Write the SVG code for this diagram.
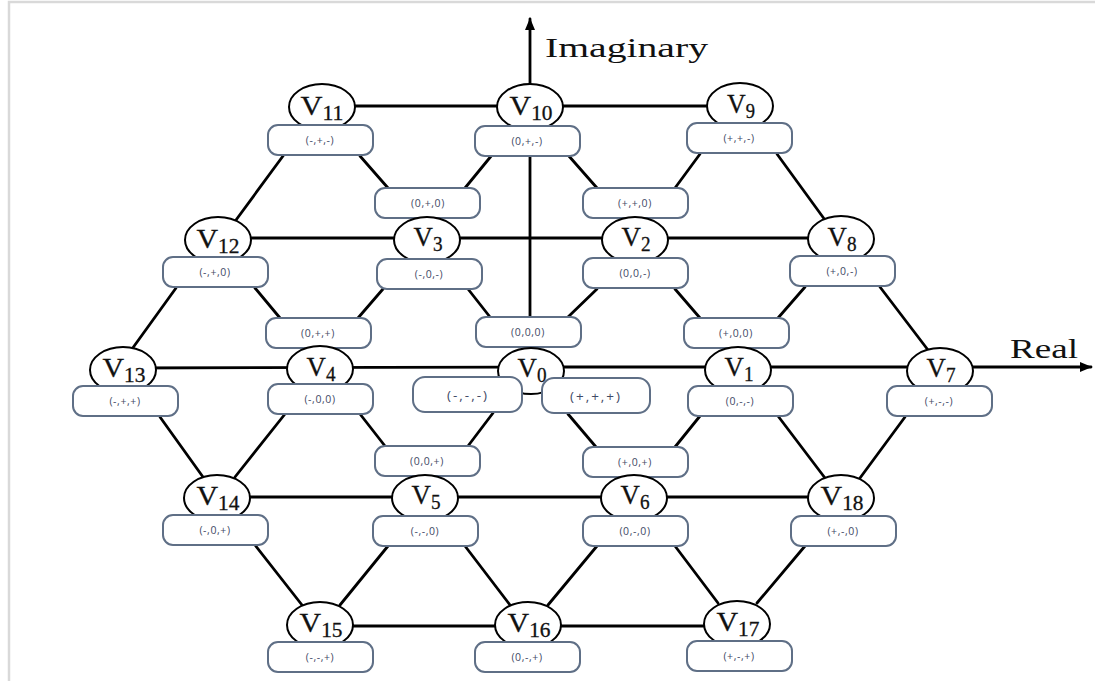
<svg xmlns="http://www.w3.org/2000/svg" width="1095" height="681" viewBox="0 0 1095 681">
<style>
.e{fill:#fff;stroke:#000;stroke-width:2}
.b{fill:#fff;stroke:#5f6f86;stroke-width:2}
.c line{stroke:#000;stroke-width:2.8;stroke-linecap:round}
.v{font-family:"Liberation Serif",serif;font-size:28px;fill:#111;text-anchor:middle;stroke:#111;stroke-width:0.3}
.s{font-size:20px}
.t{font-family:"Open Sans","Liberation Sans",sans-serif;font-size:10.5px;fill:#3f4a66;text-anchor:middle;letter-spacing:0.6px}
.tb{font-size:13.5px;letter-spacing:2px}
.ax{font-family:"Liberation Serif",serif;font-size:28px;fill:#111}
</style>
<defs>
<marker id="ah" markerWidth="12" markerHeight="10" refX="11" refY="5" orient="auto" markerUnits="userSpaceOnUse">
<path d="M0,0 L12,5 L0,10 Z" fill="#000"/>
</marker>
</defs>
<rect width="1095" height="681" fill="#fff"/>
<path d="M9,681 V2 H1095" fill="none" stroke="#d9d9d9" stroke-width="2.5"/>

<g id="connectors" class="c">
<line x1="530" y1="317" x2="530" y2="19" marker-end="url(#ah)"/>
<line x1="531" y1="367" x2="1091" y2="367" marker-end="url(#ah)"/>
<line x1="322" y1="106" x2="740" y2="106"/>
<line x1="218" y1="238" x2="841" y2="238"/>
<line x1="123" y1="368" x2="531" y2="367"/>
<line x1="217" y1="497" x2="841" y2="497"/>
<line x1="320" y1="626" x2="737" y2="626"/>
<line x1="283" y1="156" x2="236" y2="220"/>
<line x1="360" y1="156" x2="388" y2="188"/>
<line x1="465" y1="188" x2="492" y2="155"/>
<line x1="568" y1="155" x2="597" y2="188"/>
<line x1="675" y1="188" x2="700" y2="154"/>
<line x1="777" y1="154" x2="825" y2="220"/>
<line x1="176" y1="288" x2="132" y2="349"/>
<line x1="255" y1="288" x2="280" y2="318"/>
<line x1="358" y1="318" x2="383" y2="289"/>
<line x1="468" y1="289" x2="490" y2="317"/>
<line x1="568" y1="317" x2="597" y2="289"/>
<line x1="675" y1="289" x2="700" y2="318"/>
<line x1="778" y1="318" x2="805" y2="287"/>
<line x1="880" y1="287" x2="928" y2="350"/>
<line x1="160" y1="417" x2="203" y2="477"/>
<line x1="285" y1="414" x2="235" y2="477"/>
<line x1="360" y1="414" x2="385" y2="446"/>
<line x1="468" y1="446" x2="493" y2="413"/>
<line x1="568" y1="414" x2="596" y2="447"/>
<line x1="675" y1="447" x2="700" y2="416"/>
<line x1="778" y1="416" x2="825" y2="478"/>
<line x1="905" y1="417" x2="860" y2="478"/>
<line x1="255" y1="545" x2="302" y2="605"/>
<line x1="388" y1="546" x2="340" y2="605"/>
<line x1="465" y1="546" x2="510" y2="605"/>
<line x1="597" y1="546" x2="548" y2="605"/>
<line x1="675" y1="546" x2="718" y2="603"/>
<line x1="805" y1="546" x2="757" y2="603"/>
</g>

<text class="ax" x="545" y="57" textLength="163" lengthAdjust="spacingAndGlyphs">Imaginary</text>
<text class="ax" x="1010" y="358" textLength="68" lengthAdjust="spacingAndGlyphs">Real</text>

<g id="V11"><ellipse class="e" cx="322" cy="107" rx="33" ry="23"/><text class="v" x="322" y="115" textLength="43" lengthAdjust="spacingAndGlyphs">V<tspan class="s" dy="5">11</tspan></text><rect class="b" x="268" y="125" width="105" height="30" rx="10"/><text class="t" x="320" y="144">(-,+,-)</text></g>
<g id="V10"><ellipse class="e" cx="530" cy="107" rx="33" ry="23"/><text class="v" x="531" y="115" textLength="43" lengthAdjust="spacingAndGlyphs">V<tspan class="s" dy="5">10</tspan></text><rect class="b" x="475" y="126" width="105" height="30" rx="10"/><text class="t" x="527" y="145">(0,+,-)</text></g>
<g id="V9"><ellipse class="e" cx="740" cy="106" rx="33" ry="23"/><text class="v" x="741" y="113" textLength="28" lengthAdjust="spacingAndGlyphs">V<tspan class="s" dy="5">9</tspan></text><rect class="b" x="687" y="123" width="105" height="30" rx="10"/><text class="t" x="739" y="142">(+,+,-)</text></g>
<g id="S0p0"><rect class="b" x="375" y="188" width="105" height="30" rx="10"/><text class="t" x="428" y="207">(0,+,0)</text></g>
<g id="Spp0"><rect class="b" x="583" y="188" width="105" height="30" rx="10"/><text class="t" x="635" y="207">(+,+,0)</text></g>

<g id="V12"><ellipse class="e" cx="218" cy="240" rx="33" ry="23"/><text class="v" x="218" y="248" textLength="43" lengthAdjust="spacingAndGlyphs">V<tspan class="s" dy="5">12</tspan></text><rect class="b" x="163" y="257" width="105" height="30" rx="10"/><text class="t" x="215" y="276">(-,+,0)</text></g>
<g id="V3"><ellipse class="e" cx="427" cy="240" rx="33" ry="23"/><text class="v" x="428" y="246" textLength="29" lengthAdjust="spacingAndGlyphs">V<tspan class="s" dy="5">3</tspan></text><rect class="b" x="377" y="259" width="105" height="30" rx="10"/><text class="t" x="429" y="278">(-,0,-)</text></g>
<g id="V2"><ellipse class="e" cx="635" cy="240" rx="33" ry="23"/><text class="v" x="636" y="246" textLength="29" lengthAdjust="spacingAndGlyphs">V<tspan class="s" dy="5">2</tspan></text><rect class="b" x="583" y="258" width="105" height="30" rx="10"/><text class="t" x="635" y="277">(0,0,-)</text></g>
<g id="V8"><ellipse class="e" cx="841" cy="239" rx="33" ry="23"/><text class="v" x="842" y="246" textLength="29" lengthAdjust="spacingAndGlyphs">V<tspan class="s" dy="5">8</tspan></text><rect class="b" x="790" y="256" width="105" height="30" rx="10"/><text class="t" x="842" y="275">(+,0,-)</text></g>
<g id="S0pp"><rect class="b" x="266" y="318" width="105" height="30" rx="10"/><text class="t" x="318" y="337">(0,+,+)</text></g>
<g id="S000"><rect class="b" x="476" y="317" width="105" height="30" rx="10"/><text class="t" x="528" y="336">(0,0,0)</text></g>
<g id="Sp00"><rect class="b" x="684" y="318" width="105" height="30" rx="10"/><text class="t" x="736" y="337">(+,0,0)</text></g>

<g id="V13"><ellipse class="e" cx="123" cy="370" rx="33" ry="23"/><text class="v" x="124" y="377" textLength="43" lengthAdjust="spacingAndGlyphs">V<tspan class="s" dy="5">13</tspan></text><rect class="b" x="73" y="386" width="105" height="30" rx="10"/><text class="t" x="125" y="405">(-,+,+)</text></g>
<g id="V4"><ellipse class="e" cx="320" cy="369" rx="33" ry="23"/><text class="v" x="321" y="376" textLength="29" lengthAdjust="spacingAndGlyphs">V<tspan class="s" dy="5">4</tspan></text><rect class="b" x="268" y="384" width="105" height="30" rx="10"/><text class="t" x="320" y="403">(-,0,0)</text></g>
<g id="V0"><ellipse class="e" cx="531" cy="371" rx="33" ry="23"/><text class="v" x="532" y="377" textLength="29" lengthAdjust="spacingAndGlyphs">V<tspan class="s" dy="5">0</tspan></text></g>
<g id="Smmm"><rect class="b" x="413" y="377" width="109" height="35" rx="12"/><text class="t tb" x="468" y="400">(-,-,-)</text></g>
<g id="Sppp"><rect class="b" x="542" y="378" width="108" height="35" rx="12"/><text class="t tb" x="596" y="401">(+,+,+)</text></g>
<g id="V1"><ellipse class="e" cx="738" cy="370" rx="33" ry="23"/><text class="v" x="739" y="376" textLength="29" lengthAdjust="spacingAndGlyphs">V<tspan class="s" dy="5">1</tspan></text><rect class="b" x="688" y="386" width="105" height="30" rx="10"/><text class="t" x="740" y="405">(0,-,-)</text></g>
<g id="V7"><ellipse class="e" cx="940" cy="371" rx="33" ry="23"/><text class="v" x="941" y="377" textLength="29" lengthAdjust="spacingAndGlyphs">V<tspan class="s" dy="5">7</tspan></text><rect class="b" x="887" y="386" width="105" height="30" rx="10"/><text class="t" x="939" y="405">(+,-,-)</text></g>
<g id="S00p"><rect class="b" x="375" y="446" width="105" height="30" rx="10"/><text class="t" x="427" y="465">(0,0,+)</text></g>
<g id="Sp0p"><rect class="b" x="583" y="447" width="105" height="30" rx="10"/><text class="t" x="635" y="466">(+,0,+)</text></g>

<g id="V14"><ellipse class="e" cx="217" cy="498" rx="33" ry="23"/><text class="v" x="218" y="505" textLength="43" lengthAdjust="spacingAndGlyphs">V<tspan class="s" dy="5">14</tspan></text><rect class="b" x="163" y="515" width="105" height="30" rx="10"/><text class="t" x="215" y="534">(-,0,+)</text></g>
<g id="V5"><ellipse class="e" cx="425" cy="498" rx="33" ry="23"/><text class="v" x="426" y="504" textLength="29" lengthAdjust="spacingAndGlyphs">V<tspan class="s" dy="5">5</tspan></text><rect class="b" x="373" y="516" width="105" height="30" rx="10"/><text class="t" x="425" y="535">(-,-,0)</text></g>
<g id="V6"><ellipse class="e" cx="634" cy="498" rx="33" ry="23"/><text class="v" x="635" y="504" textLength="29" lengthAdjust="spacingAndGlyphs">V<tspan class="s" dy="5">6</tspan></text><rect class="b" x="583" y="516" width="105" height="30" rx="10"/><text class="t" x="635" y="535">(0,-,0)</text></g>
<g id="V18"><ellipse class="e" cx="841" cy="498" rx="33" ry="23"/><text class="v" x="842" y="505" textLength="43" lengthAdjust="spacingAndGlyphs">V<tspan class="s" dy="5">18</tspan></text><rect class="b" x="791" y="516" width="105" height="30" rx="10"/><text class="t" x="843" y="535">(+,-,0)</text></g>

<g id="V15"><ellipse class="e" cx="320" cy="625" rx="33" ry="23"/><text class="v" x="321" y="632" textLength="43" lengthAdjust="spacingAndGlyphs">V<tspan class="s" dy="5">15</tspan></text><rect class="b" x="268" y="642" width="105" height="30" rx="10"/><text class="t" x="320" y="661">(-,-,+)</text></g>
<g id="V16"><ellipse class="e" cx="528" cy="625" rx="33" ry="23"/><text class="v" x="529" y="632" textLength="43" lengthAdjust="spacingAndGlyphs">V<tspan class="s" dy="5">16</tspan></text><rect class="b" x="475" y="642" width="105" height="30" rx="10"/><text class="t" x="527" y="661">(0,-,+)</text></g>
<g id="V17"><ellipse class="e" cx="737" cy="624" rx="33" ry="23"/><text class="v" x="738" y="631" textLength="43" lengthAdjust="spacingAndGlyphs">V<tspan class="s" dy="5">17</tspan></text><rect class="b" x="687" y="641" width="105" height="30" rx="10"/><text class="t" x="739" y="660">(+,-,+)</text></g>
</svg>
